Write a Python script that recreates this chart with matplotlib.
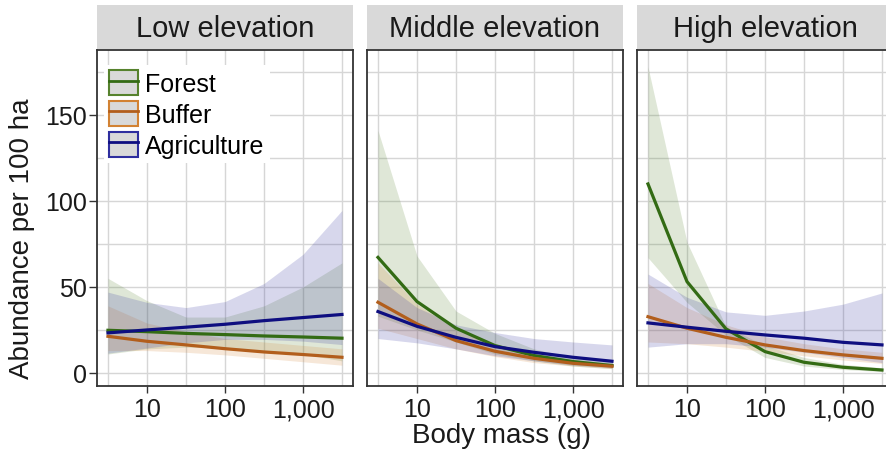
import matplotlib.pyplot as plt
from matplotlib.patches import Patch
from matplotlib.lines import Line2D
from matplotlib.ticker import FixedLocator, NullFormatter

plt.rcParams['font.family'] = ['Liberation Sans', 'DejaVu Sans']

# body mass (g) at which predictions are drawn
body_mass = [3.16, 10, 31.6, 100, 316, 1000, 3160]

panels = ["Low elevation", "Middle elevation", "High elevation"]
habitats = ["Forest", "Buffer", "Agriculture"]

# Low elevation
forest_low = [24.8, 24.0, 23.0, 22.3, 21.5, 20.9, 20.2]
forest_low_lo = [11, 14, 15, 14.5, 13, 11, 7]
forest_low_hi = [55, 42, 32.5, 32.5, 39, 50, 64]
buffer_low = [21.3, 18.4, 16.3, 14.1, 12.2, 10.7, 9.1]
buffer_low_lo = [13, 13, 12, 10.5, 8.5, 6.5, 4.5]
buffer_low_hi = [39, 29, 24, 20, 18, 16, 14]
agri_low = [23.3, 25.0, 26.6, 28.3, 30.4, 32.2, 34.0]
agri_low_lo = [11.5, 14.5, 17.5, 19.5, 19.5, 18.5, 16.5]
agri_low_hi = [47, 41, 38, 41.5, 52, 69, 94.5]

# Middle elevation
forest_mid = [67.2, 41.5, 26.0, 15.9, 10.1, 6.6, 4.3]
forest_mid_lo = [33, 25, 18, 11, 7, 4, 2.5]
forest_mid_hi = [141, 68, 36, 23, 14, 9, 6.5]
buffer_mid = [41.1, 28.5, 18.8, 12.6, 8.5, 5.6, 3.9]
buffer_mid_lo = [26, 20, 14, 9.5, 6, 4, 2.5]
buffer_mid_hi = [64, 40, 25, 16, 11, 7.5, 5.5]
agri_mid = [35.7, 27.1, 20.7, 15.3, 12.0, 9.1, 6.8]
agri_mid_lo = [20, 17.5, 14, 10, 7, 4.5, 3]
agri_mid_hi = [55, 38, 28, 23.5, 20, 18, 16.3]

# High elevation
forest_high = [109.9, 53.1, 25.6, 12.4, 6.2, 3.3, 1.7]
forest_high_lo = [67, 41, 22, 9, 4, 2, 0.8]
forest_high_hi = [178, 76, 27, 16, 9, 5, 3]
buffer_high = [32.7, 26.0, 20.7, 16.3, 13.0, 10.5, 8.5]
buffer_high_lo = [18, 17, 15, 12.5, 10, 7.5, 5.5]
buffer_high_hi = [52, 38, 28, 21, 17, 14, 12]
agri_high = [29.1, 26.6, 24.2, 22.1, 20.2, 17.8, 16.3]
agri_high_lo = [15, 17, 17, 15, 12, 9, 6]
agri_high_hi = [57.5, 44, 35.5, 33.5, 36, 40, 46.5]

data = {
    "Low elevation": [(forest_low, forest_low_lo, forest_low_hi),
                      (buffer_low, buffer_low_lo, buffer_low_hi),
                      (agri_low, agri_low_lo, agri_low_hi)],
    "Middle elevation": [(forest_mid, forest_mid_lo, forest_mid_hi),
                         (buffer_mid, buffer_mid_lo, buffer_mid_hi),
                         (agri_mid, agri_mid_lo, agri_mid_hi)],
    "High elevation": [(forest_high, forest_high_lo, forest_high_hi),
                       (buffer_high, buffer_high_lo, buffer_high_hi),
                       (agri_high, agri_high_lo, agri_high_hi)],
}

line_colors = ["#336b14", "#b25e1c", "#0e0e80"]
fill_colors = ["#56822d", "#d28233", "#2e2e9e"]

W, H = 887, 460
fig = plt.figure(figsize=(W / 100, H / 100), dpi=100)


def px_axes(x0, y0, x1, y1):
    # axes from pixel box (top-left origin)
    return fig.add_axes([x0 / W, 1 - y1 / H, (x1 - x0) / W, (y1 - y0) / H])


lefts = [97, 367, 637]
for i, name in enumerate(panels):
    left = lefts[i]
    ax = px_axes(left, 51, left + 256, 387)
    strip = px_axes(left, 6, left + 256, 50)
    strip.set_facecolor("#d9d9d9")
    strip.set_xticks([])
    strip.set_yticks([])
    for s in strip.spines.values():
        s.set_visible(False)
    strip.text(0.5, 0.295, name, ha="center", va="baseline", fontsize=21,
               color="#1a1a1a", transform=strip.transAxes)

    # ribbons first, then lines on top
    for j, (mid, lo, hi) in enumerate(data[name]):
        ax.fill_between(body_mass, lo, hi, color=fill_colors[j], alpha=0.19,
                        linewidth=0, zorder=2)
    for j, (mid, lo, hi) in enumerate(data[name]):
        ax.plot(body_mass, mid, color=line_colors[j], linewidth=2.3, zorder=3)

    ax.set_xscale("log")
    ax.set_xlim(10 ** 0.359, 10 ** 3.641)
    ax.set_ylim(-7.6, 187.8)
    ax.xaxis.set_major_locator(FixedLocator([10, 100, 1000]))
    ax.set_xticklabels(["10", "100", "1,000"])
    ax.xaxis.set_minor_locator(FixedLocator([3.16, 31.6, 316, 3160]))
    ax.xaxis.set_minor_formatter(NullFormatter())
    ax.yaxis.set_major_locator(FixedLocator([0, 50, 100, 150]))
    ax.yaxis.set_minor_locator(FixedLocator([25, 75, 125, 175]))
    ax.grid(True, which="both", color="#d6d6d6", linewidth=1.0, zorder=0)
    ax.set_axisbelow(True)
    ax.tick_params(axis="both", which="minor", length=0)
    ax.tick_params(axis="x", which="major", length=5, width=1, color="#333333",
                   labelsize=18, pad=3, labelcolor="#1a1a1a")
    if i == 0:
        ax.tick_params(axis="y", which="major", length=6, width=1, color="#333333",
                       labelsize=18, pad=1, labelcolor="#1a1a1a")
    else:
        ax.tick_params(axis="y", which="major", length=0, labelleft=False)
    for s in ax.spines.values():
        s.set_color("#333333")
        s.set_linewidth(1.3)

    if i == 0:
        handles = [(Patch(facecolor="#d9d9d9", edgecolor=fill_colors[k], linewidth=1.5),
                    Line2D([], [], color=line_colors[k], linewidth=2.0))
                   for k in range(3)]
        leg = ax.legend(handles, habitats, loc="upper left",
                        bbox_to_anchor=(0.028, 0.955), fontsize=18,
                        handlelength=1.15, handleheight=1.15, handletextpad=0.3,
                        labelspacing=0.2, borderpad=0.2, borderaxespad=0,
                        frameon=True, fancybox=False, framealpha=1,
                        facecolor="white", edgecolor="none")
        leg.set_zorder(5)

fig.text(502 / W, 1 - 443 / H, "Body mass (g)", ha="center", va="baseline",
         fontsize=20, color="#1a1a1a")
fig.text(22 / W, 1 - 239 / H, "Abundance per 100 ha", ha="center", va="center",
         rotation=90, fontsize=20, color="#1a1a1a")

fig.savefig("out.png", dpi=100)
